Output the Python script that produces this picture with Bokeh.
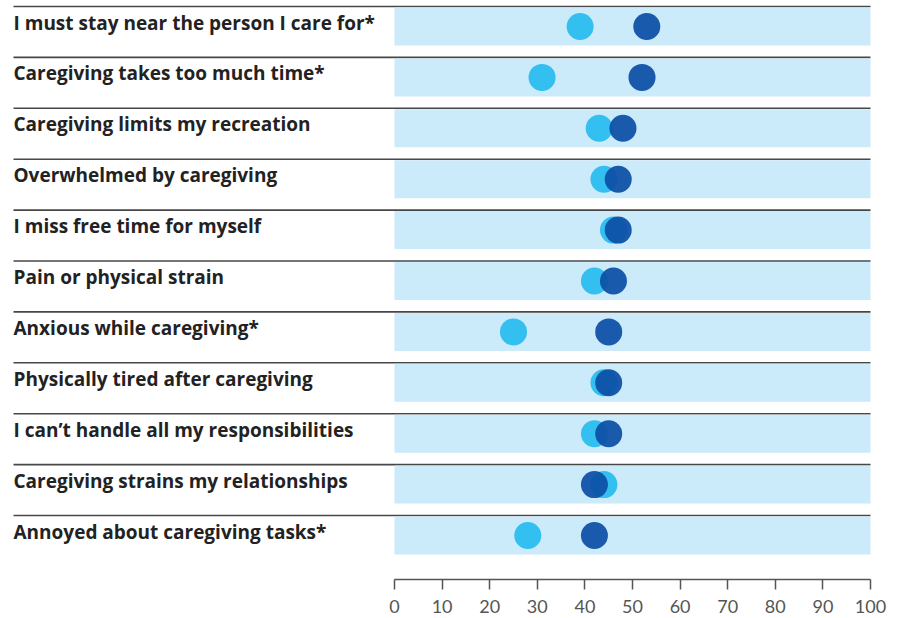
from bokeh.plotting import figure
from bokeh.models import Range1d, FixedTicker, ColumnDataSource
from bokeh.embed import file_html
from bokeh.resources import INLINE
from bokeh.core.properties import value

categories = [
    "I must stay near the person I care for*",
    "Caregiving takes too much time*",
    "Caregiving limits my recreation",
    "Overwhelmed by caregiving",
    "I miss free time for myself",
    "Pain or physical strain",
    "Anxious while caregiving*",
    "Physically tired after caregiving",
    "I can\u2019t handle all my responsibilities",
    "Caregiving strains my relationships",
    "Annoyed about caregiving tasks*",
]
series_light = [39, 31, 43, 44, 46, 42, 25, 44, 42, 44, 28]
series_dark = [53, 52, 48, 47, 47, 46, 45, 45, 45, 42, 42]
tick_values = [0, 10, 20, 30, 40, 50, 60, 70, 80, 90, 100]

W, H = 898, 618
X0_PX, X100_PX = 394, 870
PX_PER_X = (X100_PX - X0_PX) / 100.0
ROW_PX = 50.9
BOTTOM_PANEL = 39
FRAME_H = H - BOTTOM_PANEL   # axis line position
TOP_CENTER_PX = 26           # pixel y of the top row band centre

n = len(categories)
ypos = [n - 1 - i for i in range(n)]

y_end = (n - 1) + TOP_CENTER_PX / ROW_PX
y_start = y_end - FRAME_H / ROW_PX

x_start = -X0_PX / PX_PER_X
x_end = (W - X0_PX) / PX_PER_X

p = figure(width=W, height=H, output_backend="svg", toolbar_location=None,
           x_range=Range1d(x_start, x_end), y_range=Range1d(y_start, y_end),
           y_axis_location=None, min_border=0, min_border_left=0,
           min_border_right=0, min_border_top=0, min_border_bottom=BOTTOM_PANEL,
           background_fill_color="white", border_fill_color="white")
p.outline_line_color = None
p.xgrid.visible = False
p.ygrid.visible = False

src = ColumnDataSource(dict(cat=categories, y=ypos, light=series_light, dark=series_dark,
                            sep_y=[v + 20 / ROW_PX for v in ypos],
                            lab_y=[v + 4 / ROW_PX for v in ypos]))

label_x = x_start + 13 / PX_PER_X

# separators
p.segment(x0=label_x, x1=100, y0="sep_y", y1="sep_y", source=src,
          line_color="#474747", line_width=1.6)
# bands
p.hbar(y="y", left=0, right=100, height=38 / ROW_PX, source=src,
       fill_color="#cbeafa", line_color=None)
# dots
p.scatter(x="light", y="y", source=src, size=27, fill_color="#33bfef",
          line_color=None, fill_alpha=1.0)
p.scatter(x="dark", y="y", source=src, size=27, fill_color="#0c4fa6",
          line_color=None, fill_alpha=0.93)
# labels
p.text(x=label_x, y="lab_y", text="cat", source=src,
       text_font=value("Open Sans"), text_font_style="bold", text_font_size="19px",
       text_color="#222222", text_baseline="middle", text_align="left")

ax = p.xaxis[0]
ax.ticker = FixedTicker(ticks=tick_values)
ax.bounds = (0, 100)
ax.major_tick_out = 10
ax.major_tick_in = 0
ax.minor_tick_line_color = None
ax.axis_line_color = "#555555"
ax.axis_line_width = 1.5
ax.major_tick_line_color = "#555555"
ax.major_tick_line_width = 1.5
ax.major_label_text_font = "Lato"
ax.major_label_text_font_size = "18px"
ax.major_label_text_color = "#555555"
ax.major_label_standoff = 10

open("out.html", "w").write(file_html(p, INLINE))
